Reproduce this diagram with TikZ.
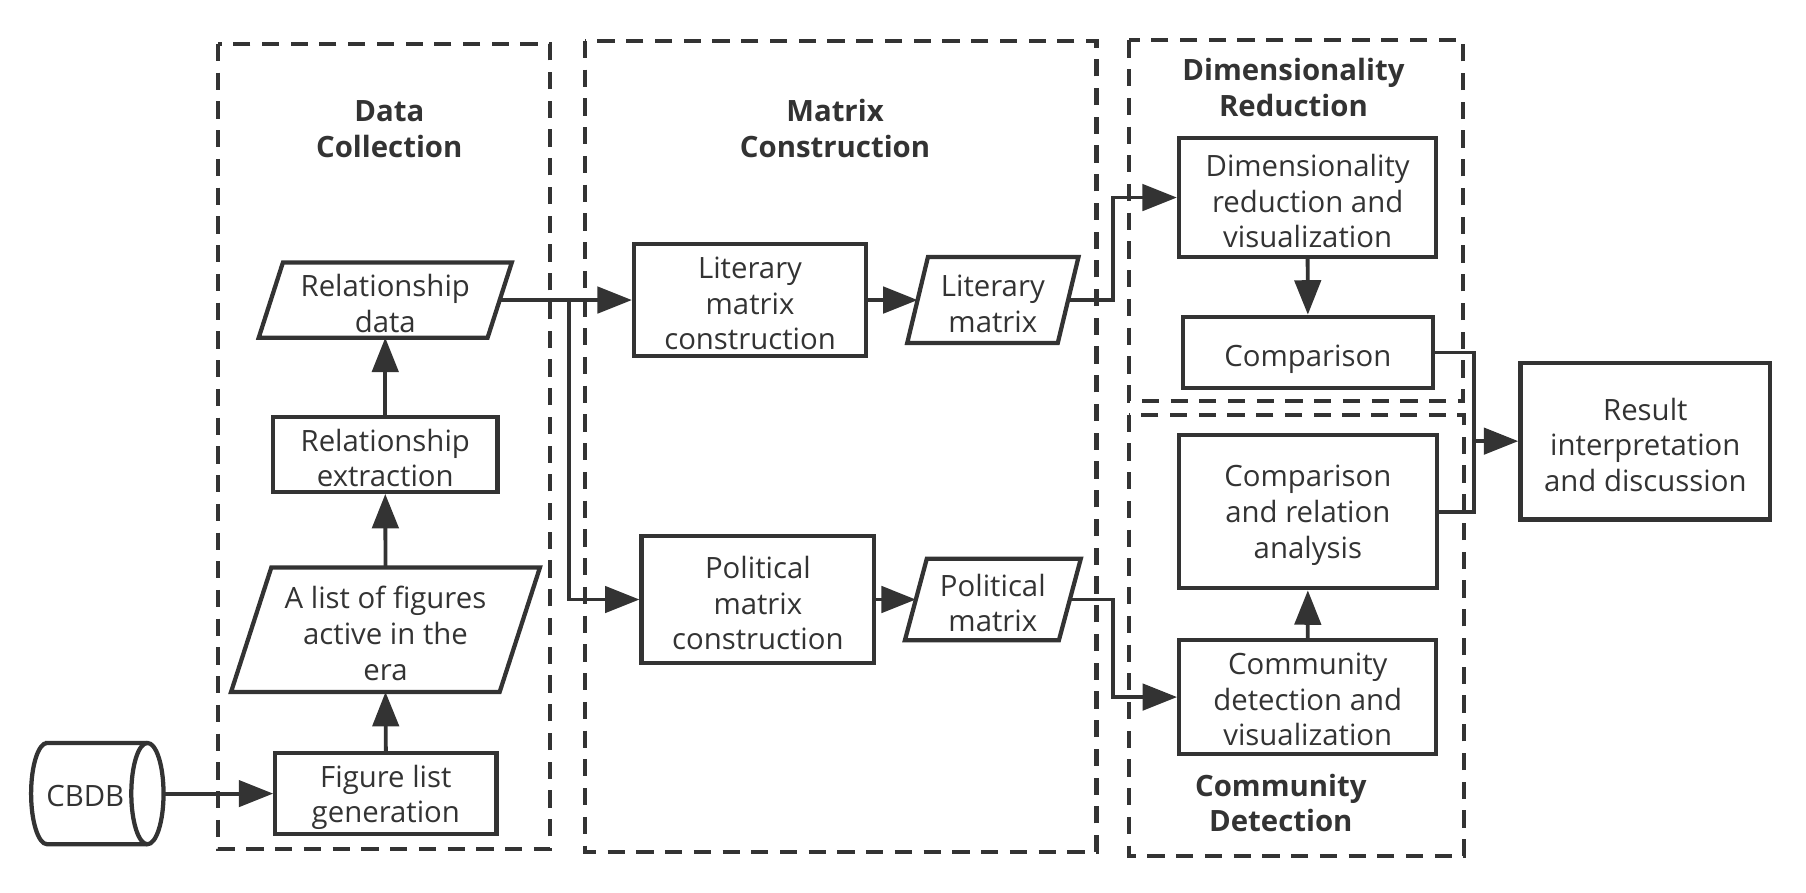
\documentclass[tikz,border=0pt]{standalone}
\usepackage{fontspec}
\setmainfont{Open Sans}
\usetikzlibrary{arrows.meta,calc}
\definecolor{ink}{HTML}{333333}
\newcommand\dgmfont{\fontsize{14.5}{17.6}\selectfont}
\newcommand\dgmbold{\fontsize{14.5}{17.6}\selectfont\bfseries}
% centred lines, lowered slightly without changing the box size
\newcommand\tl[2][1.8pt]{\raisebox{-#1}[\height][\depth]{\vbox{\let\\\cr\halign{\hfil##\hfil\cr#2\crcr}}}}
\tikzset{
  grp/.style={draw=ink, line width=2.1pt, dash pattern=on 8.5pt off 5.7pt},
  box/.style={draw=ink, line width=2.1pt, inner sep=0pt, text=ink, font=\dgmfont},
  slant/.style={inner sep=0pt, text=ink, font=\dgmfont},
  ttl/.style={align=center, inner sep=0pt, text=ink, font=\dgmbold},
  conn/.style={draw=ink, line width=1.9pt},
  arr/.style={conn, -{Triangle[length=17pt,width=13pt]}},
  outline/.style={draw=ink, line width=2.1pt}
}
\newcommand\slantdraw[2]{%
  \draw[outline] ($(#1.north west)+(#2,0)$) -- ($(#1.north east)+(#2,0)$) --
    ($(#1.south east)-(#2,0)$) -- ($(#1.south west)-(#2,0)$) -- cycle;}
\begin{document}
\begin{tikzpicture}[x=0.02cm, y=-0.02cm, line join=miter]
\useasboundingbox (0,0) rectangle (1568,775);

% group frames
\draw[grp] (189.3,38.2) rectangle (477.5,737);
\draw[grp] (508,35.5) rectangle (952,739.5);
\draw[grp] (980,35) rectangle (1270.5,348);
\draw[grp] (980,360) rectangle (1271,743);

% titles
\node[ttl] (tdc) at (338,112) {Data\\Collection};
\node[ttl] (tmc) at (725,111.5) {Matrix\\Construction};
\node[ttl] (tdr) at (1123,76) {Dimensionality\\Reduction};
\node[ttl] (tcd) at (1112,697) {Community\\Detection};

% CBDB cylinder
\draw[outline] (41,645) -- (128,645)
  arc[start angle=90, end angle=-90, x radius=0.28cm, y radius=0.88cm]
  -- (41,733)
  arc[start angle=270, end angle=90, x radius=0.28cm, y radius=0.88cm] -- cycle;
\draw[outline] (128,645) arc[start angle=90, end angle=270, x radius=0.28cm, y radius=0.88cm];
\node[slant, minimum width=115*0.02cm, minimum height=88*0.02cm] (cbdb) at (84.5,689) {\hspace*{-0.42cm}\tl[1pt]{CBDB}};

% data collection
\node[box, minimum width=192*0.02cm, minimum height=70*0.02cm] (flg) at (335,689) {\tl{Figure list\\generation}};
\node[slant, minimum width=232.5*0.02cm, minimum height=107.5*0.02cm] (alist) at (334.7,546.7) {\tl{A list of figures\\active in the\\era}};
\slantdraw{alist}{17.5}
\node[box, minimum width=195*0.02cm, minimum height=65*0.02cm] (rext) at (334.5,394.5) {\tl{Relationship\\extraction}};
\node[slant, minimum width=198*0.02cm, minimum height=64.6*0.02cm] (rdata) at (334.5,260.5) {\tl{Relationship\\data}};
\slantdraw{rdata}{10.5}

% matrix construction
\node[box, minimum width=201.5*0.02cm, minimum height=97*0.02cm] (lmc) at (651.2,260.5) {\tl{Literary\\matrix\\construction}};
\node[slant, minimum width=130*0.02cm, minimum height=74*0.02cm] (lmat) at (862,260.5) {\tl{Literary\\matrix}};
\slantdraw{lmat}{9}
\node[box, minimum width=202*0.02cm, minimum height=110*0.02cm] (pmc) at (658,520.5) {\tl{Political\\matrix\\construction}};
\node[slant, minimum width=133*0.02cm, minimum height=70*0.02cm] (pmat) at (862,520.5) {\tl{Political\\matrix}};
\slantdraw{pmat}{9.5}

% right groups
\node[box, minimum width=223.4*0.02cm, minimum height=103*0.02cm] (dimvis) at (1135.3,171.5) {\tl{Dimensionality\\reduction and\\visualization}};
\node[box, minimum width=217*0.02cm, minimum height=62*0.02cm] (comp) at (1135.5,306) {\tl[3.2pt]{Comparison}};
\node[box, minimum width=224*0.02cm, minimum height=133*0.02cm] (cra) at (1135.5,444.2) {\tl{Comparison\\and relation\\analysis}};
\node[box, minimum width=223.3*0.02cm, minimum height=99*0.02cm] (cdv) at (1135.4,605.2) {\tl[1.2pt]{Community\\detection and\\visualization}};
\node[box, minimum width=217*0.02cm, minimum height=136*0.02cm] (res) at (1428.5,383) {\tl{Result\\interpretation\\and discussion}};

% helper coordinates
\coordinate (split) at (494,260.5);
\coordinate (vline) at (966.5,0);
\coordinate (rline) at (1280,0);

% connectors
\draw[arr] (cbdb.east) -- (flg.west);
\draw[arr] (flg.north) -- (alist.south);
\draw[arr] (alist.north) -- (rext.south);
\draw[arr] (rext.north) -- (rdata.south);
\draw[arr] (rdata.east) -- (lmc.west);
\draw[arr] (split) |- (pmc.west);
\draw[arr] (lmc.east) -- (lmat.west);
\draw[arr] (pmc.east) -- (pmat.west);
\draw[arr] (lmat.east) -- (lmat.east -| vline) |- (dimvis.west);
\draw[arr] (pmat.east) -- (pmat.east -| vline) |- (cdv.west);
\draw[arr] (dimvis.south) -- (comp.north);
\draw[arr] (cdv.north) -- (cra.south);
\draw[conn] (comp.east) -- (comp.east -| rline) -- (cra.east -| rline) -- (cra.east);
\draw[arr] (res.west -| rline) -- (res.west);
\end{tikzpicture}
\end{document}
